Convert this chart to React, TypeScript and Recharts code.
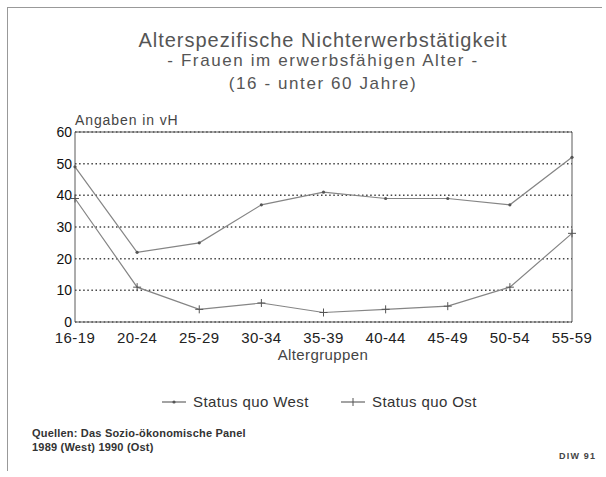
import React from "react";
import { LineChart, Line, XAxis, YAxis, CartesianGrid, ReferenceLine } from "recharts";

const ageGroups = ["16-19", "20-24", "25-29", "30-34", "35-39", "40-44", "45-49", "50-54", "55-59"];
const westValues = [49, 22, 25, 37, 41, 39, 39, 37, 52];
const ostValues = [39, 11, 4, 6, 3, 4, 5, 11, 28];
const yTicks = [0, 10, 20, 30, 40, 50, 60];

const data = ageGroups.map((name, i) => ({ name, west: westValues[i], ost: ostValues[i] }));

const FONT = "'Liberation Sans', Arial, sans-serif";
const LINE = "#858585";
const FRAME = "#5a5a5a";

const PlusDot = (props: any) => {
  const { cx, cy } = props;
  if (cx == null || cy == null) return null;
  return (
    <g stroke="#555" strokeWidth={1}>
      <line x1={cx - 4} y1={cy} x2={cx + 4} y2={cy} />
      <line x1={cx} y1={cy - 4} x2={cx} y2={cy + 4} />
    </g>
  );
};

const SmallDot = (props: any) => {
  const { cx, cy } = props;
  if (cx == null || cy == null) return null;
  return <circle cx={cx} cy={cy} r={1.6} fill="#555" />;
};

const LegendItem = ({ label, left, plus }: { label: string; left: number; plus?: boolean }) => (
  <div style={{ position: "absolute", left, top: 393, height: 18, display: "flex", alignItems: "center", fontSize: 15, letterSpacing: 0.4, color: "#333", lineHeight: "18px" }}>
    <svg width={26} height={12} style={{ marginRight: 6 }}>
      <line x1={1} y1={6} x2={25} y2={6} stroke="#666" strokeWidth={1.2} />
      {plus ? <line x1={13} y1={2} x2={13} y2={10} stroke="#555" /> : <circle cx={13} cy={6} r={1.6} fill="#555" />}
    </svg>
    {label}
  </div>
);

const centered = (top: number, lh: number): React.CSSProperties => ({
  position: "absolute",
  left: 0,
  width: 646,
  top,
  lineHeight: `${lh}px`,
  textAlign: "center",
  whiteSpace: "nowrap",
});

export default function App() {
  return (
    <div style={{ position: "absolute", left: 0, top: 0, width: 606, height: 477, background: "#fff", fontFamily: FONT, overflow: "hidden" }}>
      <div style={{ position: "absolute", left: 7, top: 7, width: 594, height: 463, borderTop: "1px solid #999", borderLeft: "1px solid #999" }} />

      <div style={{ ...centered(28, 24), fontSize: 20, letterSpacing: 1, color: "#555" }}>Alterspezifische Nichterwerbstätigkeit</div>
      <div style={{ ...centered(51, 20), fontSize: 17, letterSpacing: 1.6, color: "#555" }}>- Frauen im erwerbsfähigen Alter -</div>
      <div style={{ ...centered(74, 20), fontSize: 17, letterSpacing: 1.6, color: "#555" }}>(16 - unter 60 Jahre)</div>

      <div style={{ position: "absolute", left: 75, top: 112, lineHeight: "16px", fontSize: 14, letterSpacing: 0.9, color: "#444" }}>Angaben in vH</div>

      <LineChart width={606} height={477} data={data} margin={{ top: 132, right: 34, bottom: 125, left: 0 }} style={{ position: "absolute", left: 0, top: 0 }}>
        <CartesianGrid vertical={false} stroke="#444" strokeWidth={1.5} strokeDasharray="1.5 2.6" />
        <XAxis
          dataKey="name"
          height={30}
          tickLine={false}
          tickSize={0}
          tickMargin={10}
          axisLine={{ stroke: FRAME }}
          tick={{ fill: "#222", fontSize: 15, fontFamily: FONT, letterSpacing: 0.4 }}
          interval={0}
        />
        <YAxis
          width={75}
          domain={[0, 60]}
          ticks={yTicks}
          tickLine={false}
          tickSize={0}
          tickMargin={3}
          axisLine={{ stroke: FRAME }}
          tick={{ fill: "#111", fontSize: 14, fontFamily: FONT }}
        />
        <ReferenceLine y={60} stroke={FRAME} />
        <ReferenceLine x="55-59" stroke={FRAME} />
        <Line dataKey="west" stroke={LINE} strokeWidth={1.2} dot={<SmallDot />} isAnimationActive={false} />
        <Line dataKey="ost" stroke={LINE} strokeWidth={1.2} dot={<PlusDot />} isAnimationActive={false} />
      </LineChart>

      <div style={{ ...centered(346, 18), fontSize: 15, letterSpacing: 0.4, color: "#444" }}>Altergruppen</div>

      <LegendItem label="Status quo West" left={161} />
      <LegendItem label="Status quo Ost" left={340} plus />

      <div style={{ position: "absolute", left: 32, top: 426, fontSize: 11, fontWeight: 700, color: "#333", lineHeight: "14px", letterSpacing: 0.2, whiteSpace: "nowrap" }}>
        <div>Quellen: Das Sozio-ökonomische Panel</div>
        <div>1989 (West) 1990 (Ost)</div>
      </div>
      <div style={{ position: "absolute", left: 559, top: 451, lineHeight: "11px", fontSize: 9, fontWeight: 700, color: "#444", letterSpacing: 1.2 }}>DIW 91</div>
    </div>
  );
}
